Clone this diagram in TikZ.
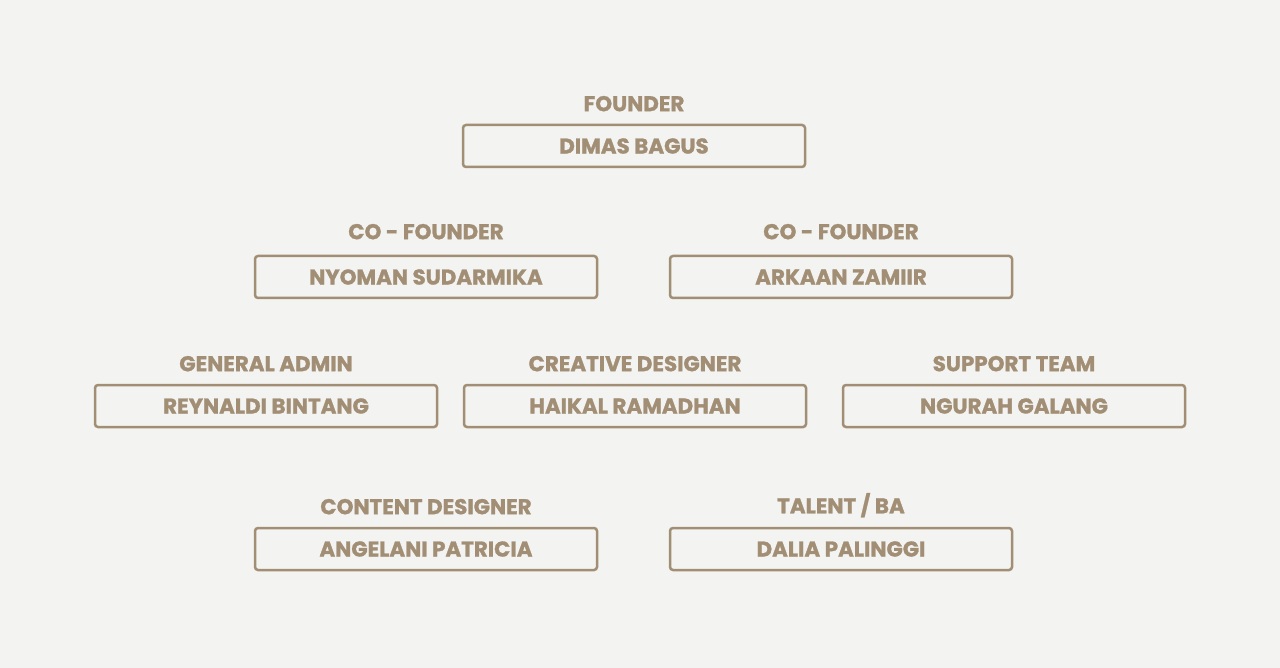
\documentclass[tikz,border=0pt]{standalone}
\usepackage{fontspec}
\setmainfont{Poppins}[BoldFeatures={FakeBold=1.2}]
\usetikzlibrary{positioning}
\definecolor{tan}{HTML}{A18E74}
\definecolor{paper}{HTML}{F3F3F1}
\tikzset{
  namebox/.style={draw=tan, line width=1.25pt, rounded corners=1.5pt,
    minimum width=171pt, minimum height=21pt, inner sep=0pt,
    text=tan, font=\bfseries\fontsize{10.7}{12}\selectfont},
  role/.style={text=tan, inner sep=0pt, font=\bfseries\fontsize{10.7}{12}\selectfont}
}
\begin{document}
\begin{tikzpicture}[x=0.5pt, y=-0.5pt, node distance = 6pt]
  \fill[paper] (0,0) rectangle (1280,668);
  \useasboundingbox (0,0) rectangle (1280,668);

  % founder
  \node[namebox] (f) at (634,146) {DIMAS BAGUS};
  \node[role, above = of f] (ft) {FOUNDER};

  % co-founders
  \node[namebox] (c1) at (426,277) {NYOMAN SUDARMIKA};
  \node[namebox] (c2) at (841,277) {ARKAAN ZAMIIR};
  \node[role, above = 7.5pt of c1] (c1t) {CO - FOUNDER};
  \node[role, above = 7.5pt of c2] (c2t) {CO - FOUNDER};

  % team
  \node[namebox] (t1) at (266,406) {REYNALDI BINTANG};
  \node[namebox] (t2) at (635,406) {HAIKAL RAMADHAN};
  \node[namebox] (t3) at (1014,406) {NGURAH GALANG};
  \node[role, above = of t1] (t1t) {GENERAL ADMIN};
  \node[role, above = of t2] (t2t) {CREATIVE DESIGNER};
  \node[role, above = of t3] (t3t) {SUPPORT TEAM};

  % content & talent
  \node[namebox] (d1) at (426,549) {ANGELANI PATRICIA};
  \node[namebox] (d2) at (841,549) {DALIA PALINGGI};
  \node[role, above = of d1] (d1t) {CONTENT DESIGNER};
  \node[role, above = 4.5pt of d2] (d2t) {TALENT / BA};
\end{tikzpicture}
\end{document}
